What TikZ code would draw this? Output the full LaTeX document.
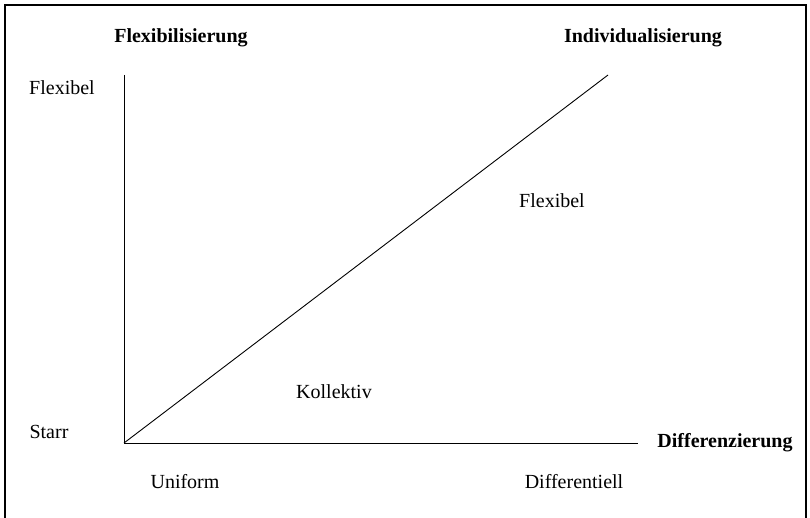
\documentclass[tikz,border=0pt]{standalone}
\usepackage{fontspec}
\setmainfont{Liberation Serif}
\begin{document}
\begin{tikzpicture}[x=1pt,y=-1pt,
  lbl/.style={inner sep=0pt,font=\fontsize{20}{24}\selectfont},
  head/.style={lbl,font=\fontsize{20}{24}\selectfont\bfseries},
  axis/.style={line width=0.9pt},
  frame/.style={line width=1.2pt}]
\useasboundingbox (0,0) rectangle (810,518);
% outer frame, open at the bottom
\draw[frame] (5,518) -- (5,5) -- (806,5) -- (806,518);
% axes and diagonal
\coordinate (O) at (124,443);
\coordinate (ytop) at (124,75);
\coordinate (xend) at (638,443);
\coordinate (dend) at (608,75);
\draw[axis] (ytop) -- (O) -- (xend);
\draw[axis] (O) -- (dend);
% headings
\node[head] (flexi) at (181,38) {Flexibilisierung};
\node[head] (indiv) at (643,38) {Individualisierung};
\node[head] (diff) at (725,443) {Differenzierung};
% axis labels
\node[lbl] (flexibel) at (62,88) {Flexibel};
\node[lbl] (starr) at (49,432) {Starr};
\node[lbl] (uniform) at (185,482) {Uniform};
\node[lbl] (differentiell) at (574,482) {Differentiell};
% region labels
\node[lbl] (flexregion) at (552,201) {Flexibel};
\node[lbl] (kollektiv) at (334,392) {Kollektiv};
\end{tikzpicture}
\end{document}
